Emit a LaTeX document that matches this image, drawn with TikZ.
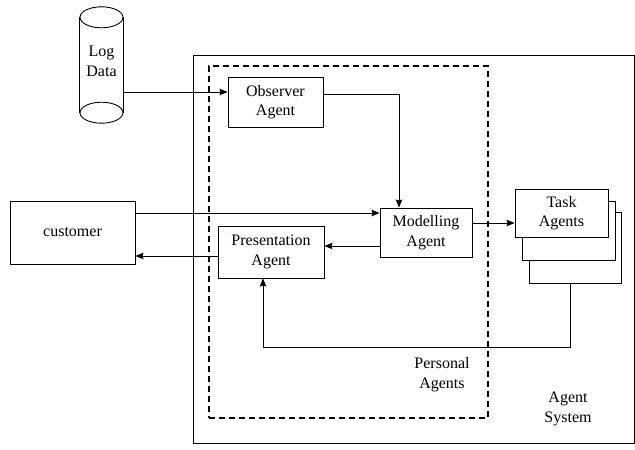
\documentclass[tikz,border=0pt]{standalone}
\usepackage{fontspec}
\setmainfont{Liberation Serif}
\usetikzlibrary{arrows.meta}
\tikzset{
  box/.style={draw,line width=0.9pt,rectangle,inner sep=0pt,align=center,font=\fontsize{16}{19.5}\selectfont},
  wbox/.style={box,fill=white},
  lbl/.style={inner sep=0pt,align=center,font=\fontsize{16}{19.5}\selectfont},
  arr/.style={line width=0.9pt,-{Stealth[length=8pt,width=6.5pt,inset=1pt]}},
  ln/.style={line width=0.9pt},
}
\begin{document}
\begin{tikzpicture}[x=1pt,y=-1pt]
\useasboundingbox (0,0) rectangle (635,450);
% frames
\node[draw,line width=0.9pt,inner sep=0pt,minimum width=441,minimum height=388] (sys) at (413.5,249) {};
\node[draw,line width=1.7pt,dash pattern=on 6pt off 4pt,inner sep=0pt,minimum width=279,minimum height=352] (pers) at (348.5,242) {};
\node[lbl] (perslbl) at (442,374.5) {Personal\\Agents};
\node[lbl] (syslbl) at (568,409) {Agent\\System};
% log data cylinder
\node[inner sep=0pt,minimum width=43,minimum height=116] (log) at (101.5,65) {};
\draw[ln] ([yshift=-10.5pt]log.north west) -- ([yshift=10.5pt]log.south west);
\draw[ln] ([yshift=-10.5pt]log.north east) -- ([yshift=10.5pt]log.south east);
\draw[ln] ([yshift=-10.5pt]log.north) ellipse [x radius=21.5, y radius=10.5];
\draw[ln] ([yshift=10.5pt]log.south) ellipse [x radius=21.5, y radius=10.5];
\node[lbl] (logtxt) at (101.5,61.5) {Log\\Data};
% nodes
\node[box,minimum width=95,minimum height=50] (obs) at (275.5,102) {Observer\\Agent};
\node[box,minimum width=92,minimum height=49] (mod) at (426,232.5) {Modelling\\Agent};
\node[box,minimum width=125,minimum height=63] (cust) at (72.5,232.5) {customer};
\node[box,minimum width=106,minimum height=52] (pres) at (271,252) {Presentation\\Agent};
\node[wbox,minimum width=92,minimum height=71] (task3) at (575,247.5) {};
\node[wbox,minimum width=93,minimum height=59] (task2) at (568.5,230.5) {};
\node[wbox,minimum width=93,minimum height=48] (task1) at (561.5,213) {Task\\Agents};
% connectors
\coordinate (a1) at ([yshift=10pt]obs.west);
\draw[arr] (log.east |- a1) -- (a1);
\coordinate (c1) at (399,94);
\draw[arr] ([yshift=8pt]obs.east) -- (c1) -- (c1 |- mod.north);
\draw[arr] ([yshift=19.5pt]cust.east) -- ([yshift=19.5pt]mod.west);
\draw[arr] ([yshift=-13.5pt]mod.west) -- ([yshift=-13.5pt]mod.west -| pres.east);
\draw[arr] ([yshift=-4pt]pres.west) -- ([yshift=-4pt]pres.west -| cust.east);
\draw[arr] ([yshift=9.5pt]mod.east) -- ([yshift=9.5pt]mod.east -| task1.west);
\coordinate (fb) at (263,347);
\draw[arr] ([xshift=-5pt]task3.south) |- (fb) -- (fb |- pres.south);
\end{tikzpicture}
\end{document}
